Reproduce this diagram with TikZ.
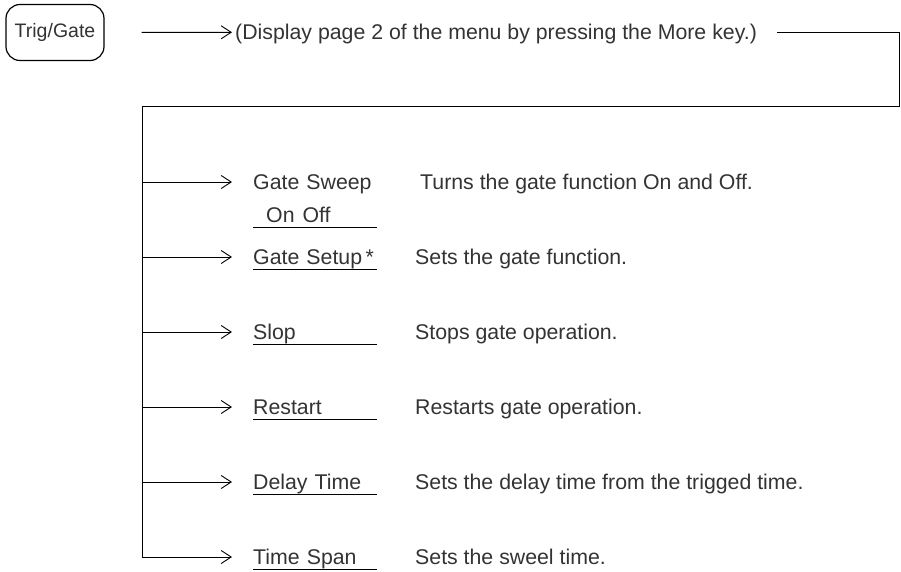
\documentclass[tikz,border=0pt]{standalone}
\usepackage{fontspec}
\setmainfont{Liberation Sans}
\usetikzlibrary{arrows.meta, positioning}

\begin{document}
\begin{tikzpicture}[x=1pt, y=-1pt,
    every node/.style={inner sep=0pt, text=black!80, font=\fontsize{21.3}{25}\selectfont},
    keybox/.style={draw, line width=1.2pt, rounded corners=14pt, minimum width=98pt, minimum height=56pt, font=\fontsize{19.5}{22}\selectfont},
    menukey/.style={anchor=west, text width=124pt, text height=15pt, text depth=0pt},
    menutext/.style={anchor=west, text height=15pt, text depth=0pt},
    flow/.style={line width=0.9pt},
    pointer/.style={flow, -{Straight Barb[length=10pt, width=13pt]}}]

  % Fix the page size
  \useasboundingbox (0,0) rectangle (901,571);

  % Front panel key and the first step
  \node[keybox] (trig) at (55,32.5) {Trig/Gate};
  \node[menutext] (disp) at (235,32) {(Display page 2 of the menu by pressing the More key.)};
  \draw[pointer, shorten <=37pt, shorten >=3pt] (trig) -- (disp);

  % Corners of the route back to the menu list
  \coordinate (ne) at (899,32);
  \coordinate (se) at (899,106);
  \coordinate (nw) at (142,106);

  % Gate Sweep has its On/Off choice on a second line
  \coordinate (b-sweep) at (142,182);
  \node[menukey] (k-sweep) at (253,182) {Gate Sweep};
  \node[menukey] (k-onoff) at (253,215) {\hspace{13pt}On\hspace{8pt}Off};
  \node[menutext] (d-sweep) at (420,182) {Turns the gate function On and Off.};
  \draw[pointer, shorten >=21pt] (b-sweep) -- (k-sweep);
  \draw[flow] ([yshift=-5pt]k-onoff.south west) -- ([yshift=-5pt]k-onoff.south east);

  % The other soft keys
  \foreach \name/\y/\key/\desc in {
      setup/257/Gate Setup\,*/Sets the gate function.,
      stop/332/Slop/Stops gate operation.,
      restart/407/Restart/Restarts gate operation.,
      delay/482/Delay Time/Sets the delay time from the trigged time.,
      span/557/Time Span/Sets the sweel time.}
  {
    \coordinate (b-\name) at (142,\y);
    \node[menukey] (k-\name) at (253,\y) {\mbox{\key}};
    \node[menutext] (d-\name) at (415,\y) {\desc};
    \draw[pointer, shorten >=21pt] (b-\name) -- (k-\name);
    \draw[flow] ([yshift=-5pt]k-\name.south west) -- ([yshift=-5pt]k-\name.south east);
  }

  % Route from the first step down the trunk
  \draw[flow, shorten <=20pt] (disp) -- (ne) -- (se) -- (nw) -- (b-span);

\end{tikzpicture}
\end{document}
